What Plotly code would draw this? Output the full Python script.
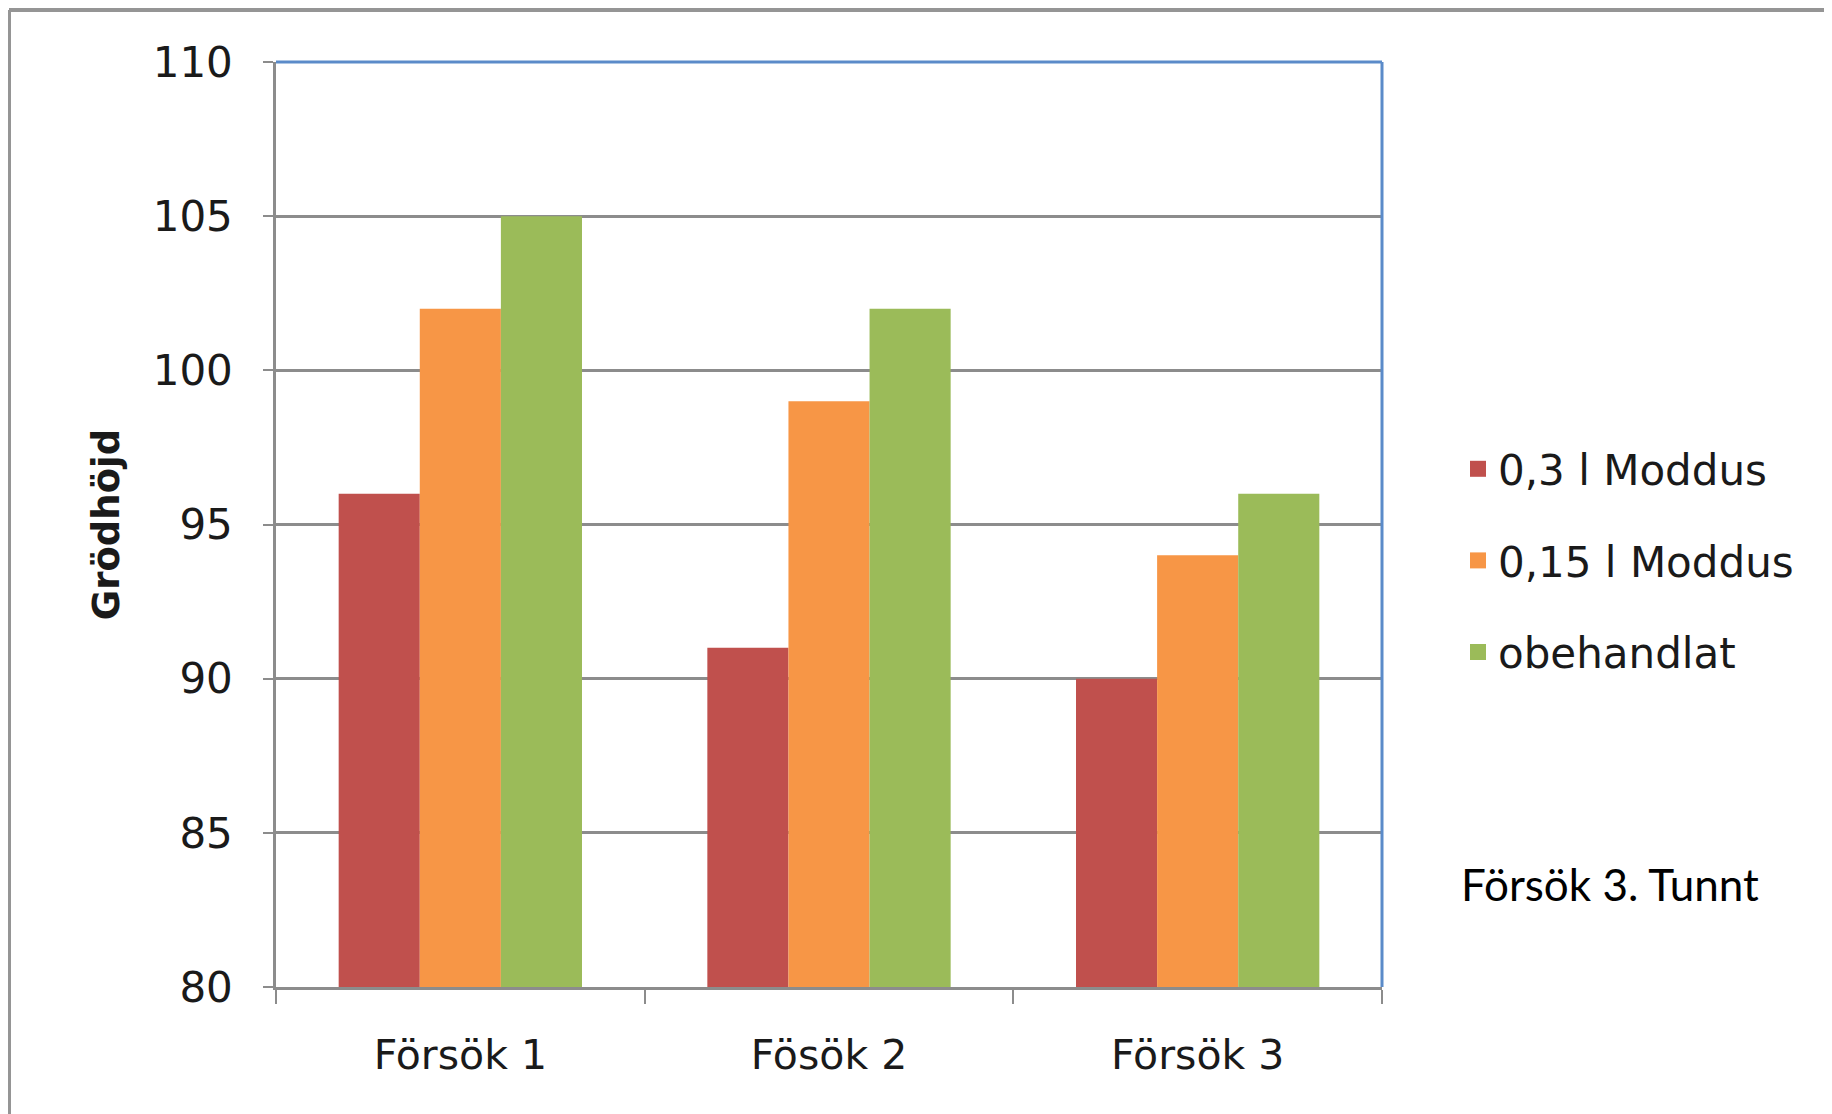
import plotly.graph_objects as go

categories = ["Försök 1", "Fösök 2", "Försök 3"]
series_names = ["0,3 l Moddus", "0,15 l Moddus", "obehandlat"]
moddus_03 = [96, 91, 90]
moddus_015 = [102, 99, 94]
obehandlat = [105, 102, 96]
colors = ["#C0504D", "#F79646", "#9BBB59"]
y_ticks = [80, 85, 90, 95, 100, 105, 110]

OFF = 8  # page body margin
W, H = 1832 - OFF, 1114 - OFF
L, R, T, B = 276 - OFF, 1382 - OFF, 62 - OFF, 987 - OFF
pw, ph = R - L, B - T

tick_font = "'DejaVu Sans', Verdana, sans-serif"

fig = go.Figure()
for name, vals, col in zip(series_names, [moddus_03, moddus_015, obehandlat], colors):
    fig.add_trace(go.Bar(
        x=categories, y=vals, name=name, marker_color=col,
        marker_line_width=0, showlegend=False,
    ))
# legend entries (larger square keys)
for name, col in zip(series_names, colors):
    fig.add_trace(go.Scatter(
        x=[None], y=[None], mode="markers", name=name, legendgroup=name,
        marker=dict(symbol="square", size=16, color=col),
    ))

fig.update_layout(
    width=W, height=H,
    margin=dict(l=L, r=W - R, t=T, b=H - B, pad=0),
    paper_bgcolor="white", plot_bgcolor="white",
    barmode="group", bargap=0.34, bargroupgap=0,
    font=dict(family=tick_font, size=41, color="#1a1a1a"),
    showlegend=True,
    legend=dict(
        x=(1458 - OFF - L) / pw, y=(B - (475 - OFF - 40)) / ph, xanchor="left", yanchor="top",
        font=dict(size=42, family=tick_font),
        tracegroupgap=34, itemwidth=30, bgcolor="rgba(0,0,0,0)",
    ),
    xaxis=dict(
        showgrid=False, showline=True, linecolor="#8c8c8c", linewidth=2.5,
        ticks="outside", tickson="boundaries", ticklen=14, tickcolor="#8c8c8c",
        tickwidth=2, tickfont=dict(size=41), ticklabelstandoff=30,
    ),
    yaxis=dict(
        range=[80, 110], tickvals=y_ticks, showgrid=True, gridcolor="#8c8c8c",
        gridwidth=2.5, showline=True, linecolor="#8c8c8c", linewidth=2.5,
        ticks="outside", ticklen=10, tickcolor="#8c8c8c", tickwidth=2,
        tickfont=dict(size=42), ticklabelstandoff=22, zeroline=False,
        title=dict(text="<b>Grödhöjd</b>", font=dict(size=37, family=tick_font), standoff=22),
    ),
)

# blue top and right frame of plot area
fig.add_shape(type="line", xref="paper", yref="paper", x0=0, x1=1, y0=1, y1=1,
              line=dict(color="#5B8BC9", width=3))
fig.add_shape(type="line", xref="paper", yref="paper", x0=1, x1=1, y0=0, y1=1,
              line=dict(color="#5B8BC9", width=3))
# outer border (top and left)
bx = (9 - OFF - L) / pw
by = 1 + (T - (10 - OFF)) / ph
fig.add_shape(type="line", xref="paper", yref="paper",
              x0=bx, x1=(W + 10 - L) / pw, y0=by, y1=by,
              line=dict(color="#959595", width=4))
fig.add_shape(type="line", xref="paper", yref="paper",
              x0=bx, x1=bx, y0=by, y1=-(H + 10 - B) / ph,
              line=dict(color="#959595", width=4))

fig.add_annotation(text="Försök 3. Tunnt", xref="paper", yref="paper",
                   x=(1459 - OFF - L) / pw, y=(B - (884 - OFF)) / ph, xanchor="left", yanchor="middle",
                   showarrow=False, font=dict(size=44, family="Lato, sans-serif", color="#000"))

fig.write_html("out.html")
